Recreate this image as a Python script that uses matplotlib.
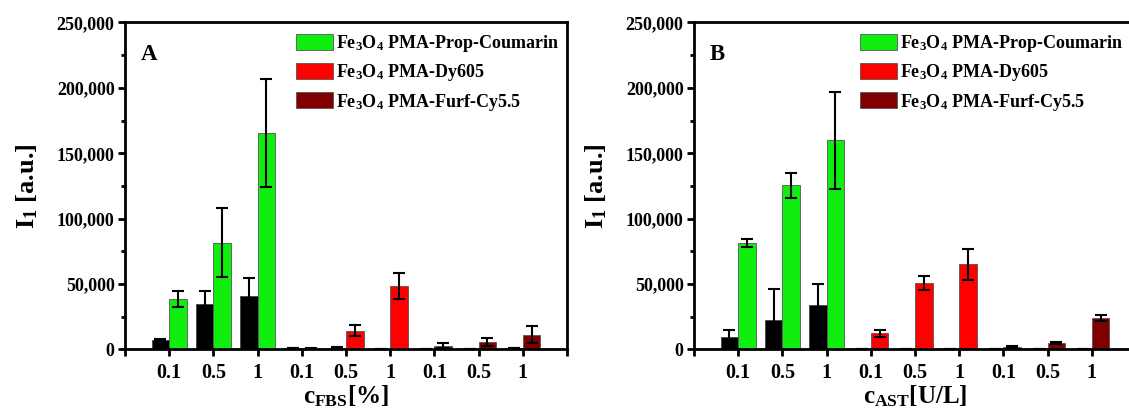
import matplotlib
matplotlib.use('Agg')
import matplotlib.pyplot as plt
from matplotlib.patches import Patch
from matplotlib.ticker import MultipleLocator, FuncFormatter
import numpy as np

plt.rcParams['font.family'] = ['Liberation Serif', 'DejaVu Serif']
plt.rcParams['font.weight'] = 'bold'
plt.rcParams['mathtext.fontset'] = 'custom'
plt.rcParams['mathtext.rm'] = 'Liberation Serif:bold'
plt.rcParams['mathtext.it'] = 'Liberation Serif:bold'
plt.rcParams['mathtext.bf'] = 'Liberation Serif:bold'

# x tick labels (three dyes x three concentrations)
tick_labels = ['0.1', '0.5', '1', '0.1', '0.5', '1', '0.1', '0.5', '1']
dye_names = ['Fe$_3$O$_4$ PMA-Prop-Coumarin', 'Fe$_3$O$_4$ PMA-Dy605', 'Fe$_3$O$_4$ PMA-Furf-Cy5.5']
dye_colors = ['#10EE10', '#FF0000', '#800000']

# panel A, c_FBS
ctrl_a = [7500, 35000, 41000, 800, 1500, 600, 600, 500, 1200]
ctrl_a_err = [500, 10000, 14000, 0, 300, 0, 0, 0, 300]
dye_a = [38600, 81800, 165500, 1000, 14500, 48300, 3000, 5600, 11400]
dye_a_err = [6000, 26700, 41000, 300, 4500, 10000, 2000, 3200, 6300]

# panel B, c_AST
ctrl_b = [9600, 22900, 34000, 500, 500, 500, 500, 500, 500]
ctrl_b_err = [5000, 23400, 16000, 0, 0, 0, 0, 0, 0]
dye_b = [81300, 125500, 159800, 12400, 50800, 65000, 2000, 5000, 24100]
dye_b_err = [3000, 9500, 37300, 2800, 5600, 12000, 500, 1000, 2400]


def draw_panel(ax, ctrl, ctrl_err, dye, dye_err, letter, xlabel, leg_x):
    x = np.arange(1, 10)
    w = 0.4
    cols = [dye_colors[i // 3] for i in range(9)]
    ekw = dict(ecolor='black', elinewidth=1.5, capsize=4, capthick=1.5)
    ax.bar(x - w / 2, ctrl, w, yerr=ctrl_err, color='black', edgecolor='#444444',
           linewidth=0.6, error_kw=ekw, zorder=2)
    ax.bar(x + w / 2, dye, w, yerr=dye_err, color=cols, edgecolor='#555555',
           linewidth=0.6, error_kw=ekw, zorder=2)

    ax.set_xlim(0, 10)
    ax.set_ylim(0, 250000)
    ax.set_xticks(range(0, 11))
    ax.set_xticklabels([''] + tick_labels + [''], fontsize=14.5, fontweight='bold')
    ax.yaxis.set_major_locator(MultipleLocator(50000))
    ax.yaxis.set_minor_locator(MultipleLocator(25000))
    ax.yaxis.set_major_formatter(FuncFormatter(lambda v, p: '{:,.0f}'.format(v)))
    for lab in ax.get_yticklabels():
        lab.set_fontsize(13)
        lab.set_fontweight('bold')
    ax.tick_params(axis='y', which='major', length=5, width=2, pad=2.5)
    ax.tick_params(axis='y', which='minor', length=3, width=2)
    ax.tick_params(axis='x', which='major', length=5, width=2, pad=5)
    for s in ax.spines.values():
        s.set_linewidth(2)

    ax.set_ylabel('I$_1$ [a.u.]', fontsize=19, fontweight='bold', labelpad=12)
    ax.set_xlabel(xlabel, fontsize=18, fontweight='bold', labelpad=0)
    ax.text(0.035, 0.935, letter, transform=ax.transAxes, fontsize=16.5,
            fontweight='bold', va='top', ha='left')

    handles = [Patch(facecolor=c, edgecolor='#555555', linewidth=0.6) for c in dye_colors]
    ax.legend(handles, dye_names, loc='upper left', bbox_to_anchor=(leg_x, 1.0),
              frameon=False, handlelength=2.05, handleheight=1.0,
              handletextpad=0.15, labelspacing=0.45, borderaxespad=0.2,
              prop={'weight': 'bold', 'size': 13})


fig = plt.figure(figsize=(11.29, 4.12), dpi=100)
ax_a = fig.add_axes([0.1107, 0.1517, 0.3915, 0.7937])
ax_b = fig.add_axes([0.6147, 0.1517, 0.3915, 0.7937])
draw_panel(ax_a, ctrl_a, ctrl_a_err, dye_a, dye_a_err, 'A', 'c$_{FBS}$[%]', 0.362)
draw_panel(ax_b, ctrl_b, ctrl_b_err, dye_b, dye_b_err, 'B', 'c$_{AST}$[U/L]', 0.352)

fig.savefig('out.png', dpi=100)
